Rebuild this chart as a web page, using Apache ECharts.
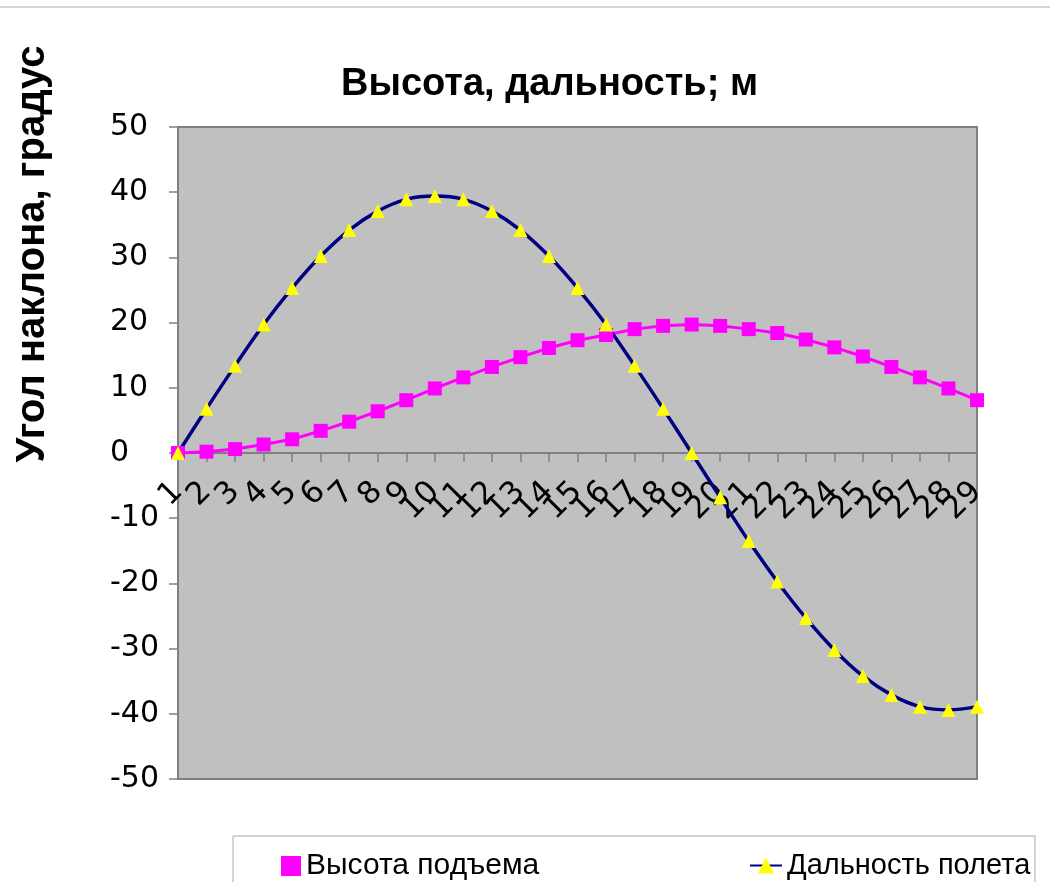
<!DOCTYPE html>
<html>
<head>
<meta charset="utf-8">
<script src="https://cdn.jsdelivr.net/npm/echarts@6/dist/echarts.min.js"></script>
<style>
html,body{margin:0;padding:0;background:#fff;}
#chart{width:1050px;height:882px;}
</style>
</head>
<body>
<div id="chart"></div>
<script>
var categories = ['1','2','3','4','5','6','7','8','9','10','11','12','13','14','15','16','17','18','19','20','21','22','23','24','25','26','27','28','29'];
var heightVals = [0, 0.2, 0.6, 1.3, 2.1, 3.4, 4.8, 6.4, 8.1, 9.9, 11.6, 13.2, 14.7, 16.1, 17.3, 18.1, 19.0, 19.5, 19.7, 19.5, 19.0, 18.4, 17.4, 16.2, 14.8, 13.2, 11.6, 9.9, 8.1];
var rangeVals = [0, 6.8, 13.4, 19.7, 25.3, 30.2, 34.2, 37.1, 38.9, 39.4, 38.9, 37.1, 34.2, 30.2, 25.3, 19.7, 13.4, 6.8, 0, -6.8, -13.5, -19.7, -25.3, -30.2, -34.2, -37.1, -38.9, -39.4, -38.9];
var seriesNames = ['Высота подъема', 'Дальность полета'];
var titleText = 'Высота, дальность; м';
var yTitleText = 'Угол наклона, градус';

var chart = echarts.init(document.getElementById('chart'));
var gridTop = 127, gridBottom = 103, chartH = 882;
var plotH = chartH - gridTop - gridBottom;
// shift of the category axis from the bottom of the plot up to the zero line
var zeroShift = -plotH * (0 - (-50)) / 100;
var option = {
  backgroundColor: '#ffffff',
  animation: false,
  title: {
    text: titleText,
    left: 336, top: 61,
    textStyle: {fontFamily: 'Liberation Sans', fontWeight: 'bold', fontSize: 38, color: '#000'}
  },
  graphic: [
    {type: 'line', shape: {x1: 0, y1: 7, x2: 1050, y2: 7}, style: {stroke: '#d4d4d4', lineWidth: 2}, silent: true},
    {type: 'rect', shape: {x: 233, y: 836, width: 802, height: 70}, style: {fill: 'none', stroke: '#a8a8a8', lineWidth: 1}, silent: true},
    {type: 'text', x: 33, y: 254, rotation: Math.PI / 2,
     style: {text: yTitleText, fontFamily: 'Liberation Sans', fontWeight: 'bold', fontSize: 40, fill: '#000', align: 'center', verticalAlign: 'middle'}}
  ],
  legend: [
    {data: [{name: seriesNames[0], icon: 'rect'}], left: 276, top: 846, itemWidth: 20, itemHeight: 20, itemGap: 5,
     textStyle: {fontFamily: 'Liberation Sans', fontSize: 30, color: '#000'}},
    {data: [seriesNames[1]], left: 744, top: 846, itemWidth: 32, itemHeight: 20,
     textStyle: {fontFamily: 'Liberation Sans', fontSize: 29, color: '#000'}}
  ],
  grid: {left: 178, right: 73, top: gridTop, bottom: gridBottom, show: true, backgroundColor: '#C0C0C0', borderColor: '#808080', borderWidth: 2},
  xAxis: {
    type: 'category', data: categories, boundaryGap: false,
    position: 'bottom', offset: zeroShift,
    axisLine: {onZero: false, lineStyle: {color: '#808080', width: 2}},
    axisTick: {show: true, length: 9, interval: 0, lineStyle: {color: '#808080', width: 1.5}},
    axisLabel: {interval: 0, rotate: 45, margin: 34, fontFamily: 'DejaVu Sans', fontSize: 31, color: '#000'},
    splitLine: {show: false}
  },
  yAxis: {
    type: 'value', min: -50, max: 50, interval: 10,
    axisLine: {show: true, onZero: false, lineStyle: {color: '#808080', width: 2}},
    axisTick: {show: true, length: 9, lineStyle: {color: '#808080', width: 1.5}},
    axisLabel: {align: 'left', margin: 68, fontFamily: 'DejaVu Sans', fontSize: 30, color: '#000'},
    splitLine: {show: false}
  },
  series: [
    {name: seriesNames[0], type: 'line', data: heightVals, symbol: 'rect', symbolSize: 14,
     itemStyle: {color: '#FF00FF'}, lineStyle: {color: '#FF00FF', width: 3}},
    {name: seriesNames[1], type: 'line', data: rangeVals, smooth: 0.35, symbol: 'triangle', symbolSize: 14,
     itemStyle: {color: '#FFFF00'}, lineStyle: {color: '#000080', width: 3.5}, z: 3}
  ]
};
chart.setOption(option);
</script>
</body>
</html>
